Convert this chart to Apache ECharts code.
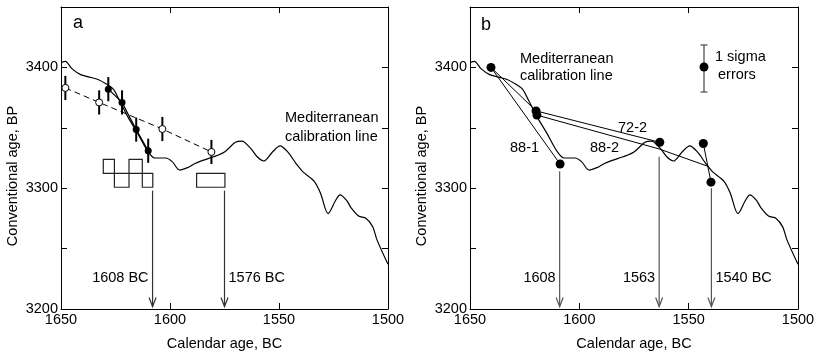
<!DOCTYPE html>
<html>
<head>
<meta charset="UTF-8">
<title>Calibration panels</title>
<script src="https://cdn.jsdelivr.net/npm/echarts@6/dist/echarts.min.js"></script>
<style>
  html, body { margin: 0; padding: 0; background: #fff; }
  #chart { width: 816px; height: 355px; }
</style>
</head>
<body>
<div id="chart"></div>
<script>
// Mediterranean calibration curve (year BC, conventional age BP)
var calYears = [1650, 1648, 1645, 1641, 1637, 1633, 1629, 1626, 1623, 1619, 1615, 1610, 1607, 1604, 1602, 1599, 1595.5, 1592, 1588.5, 1585, 1580, 1575, 1570, 1567, 1563, 1560, 1557, 1553, 1549.5, 1546, 1542, 1539, 1534, 1531, 1527.5, 1524, 1522, 1519, 1517, 1513.5, 1510, 1507, 1505, 1500];
var calAges  = [3404, 3405, 3399, 3394, 3392, 3390, 3386, 3382, 3372, 3358, 3346, 3330, 3325, 3325, 3325, 3322, 3315, 3317, 3320.5, 3323, 3326, 3330, 3338, 3339, 3333, 3326, 3322.5, 3330, 3335, 3330, 3320, 3313.5, 3306, 3296, 3279, 3290, 3294.5, 3290, 3284, 3277, 3275, 3268, 3257, 3237];

// panel a: open points (dashed) and filled points (solid), 1 sigma
var openYears = [1648, 1632.5, 1603.5, 1581];
var openAges  = [3383, 3371, 3349, 3330];
var fillYears = [1628.3, 1622, 1615.5, 1610];
var fillAges  = [3382, 3371, 3348.5, 3331];
var sigmaA = 10;

// panel a: calibrated ranges as boxes [from, to, low, high]
var boxFrom = [1630.6, 1618.8, 1625.5, 1612.7, 1587.8];
var boxTo   = [1625.5, 1612.7, 1618.8, 1607.9, 1574.8];
var boxLow  = [3312.3, 3312.3, 3300.8, 3300.8, 3300.8];
var boxHigh = [3323.8, 3323.8, 3312.3, 3312.3, 3312.3];

// arrows
var arrowYearsA = [1608, 1575];
var arrowTopA   = [3298, 3298];
var arrowTextA  = ['1608 BC', '1576 BC'];
var arrowSideA  = ['left', 'right'];
var arrowYearsB = [1609, 1563.5, 1539.6];
var arrowTopB   = [3314, 3326, 3300];
var arrowTextB  = ['1608', '1563', '1540 BC'];
var arrowSideB  = ['left', 'left', 'right'];
var arrowBottom = 3202;
var arrowTextAge = 3226;

// panel b: dated samples
var ptYears = [1640.4, 1619.8, 1619.4, 1608.8, 1563.2, 1543.3, 1539.8];
var ptAges  = [3400, 3364, 3360.5, 3320, 3338, 3337, 3305];
// wiggle-match sequences
var seq881Years = [1640.4, 1608.8];
var seq881Ages  = [3400, 3320];
var seq882Years = [1640.4, 1619.8, 1563.2];
var seq882Ages  = [3400, 3364, 3338];
var seq722Years = [1619.4, 1563.5, 1541];
var seq722Ages  = [3360.5, 3332.5, 3318];
var seqEndYears = [1543.3, 1539.8];
var seqEndAges  = [3337, 3305];

var yLabelVals = [3200, 3300, 3400];
var FONT = "'Liberation Sans', Arial, sans-serif";

function pairs(xs, ys) {
  return xs.map(function (x, i) { return [x, ys[i]]; });
}

function xAx(grid, pos, main) {
  return {
    type: 'value', gridIndex: grid, position: pos,
    min: 1500, max: 1650, interval: 50, inverse: true,
    axisLine: { show: true, onZero: false, lineStyle: { color: '#000', width: 1 } },
    axisTick: { show: true, inside: true, length: 6, lineStyle: { color: '#000' } },
    axisLabel: { show: main, color: '#000', fontSize: 14.5, fontFamily: FONT, margin: 3,
                 showMinLabel: true, showMaxLabel: true,
                 formatter: function (v) { return String(v); } },
    splitLine: { show: false },
    name: main ? 'Calendar age, BC' : '',
    nameLocation: 'middle', nameGap: 27,
    nameTextStyle: { color: '#000', fontSize: 14.5, fontFamily: FONT }
  };
}

function yAx(grid, pos, main) {
  return {
    type: 'value', gridIndex: grid, position: pos,
    min: 3200, max: 3450, interval: 50,
    axisLine: { show: true, onZero: false, lineStyle: { color: '#000', width: 1 } },
    axisTick: { show: true, inside: true, length: 6, lineStyle: { color: '#000' } },
    axisLabel: {
      show: main, color: '#000', fontSize: 14.5, fontFamily: FONT, margin: 3,
      formatter: function (v) { return yLabelVals.indexOf(v) >= 0 ? String(v) : ''; }
    },
    splitLine: { show: false }
  };
}

function errorBar(params, api) {
  var s = api.value(2);
  var p1 = api.coord([api.value(0), api.value(1) + s]);
  var p2 = api.coord([api.value(0), api.value(1) - s]);
  return { type: 'line', shape: { x1: p1[0], y1: p1[1], x2: p2[0], y2: p2[1] },
           style: { stroke: '#000', lineWidth: 2 } };
}

function boxItem(params, api) {
  var a = api.coord([api.value(0), api.value(3)]);
  var b = api.coord([api.value(1), api.value(2)]);
  var x = Math.min(a[0], b[0]), y = Math.min(a[1], b[1]);
  return { type: 'rect',
           shape: { x: x, y: y, width: Math.abs(b[0] - a[0]), height: Math.abs(b[1] - a[1]) },
           style: { stroke: '#222', lineWidth: 1.2, fill: null } };
}

function makeArrow(texts, sides, color) {
  return function (params, api) {
    var top = api.coord([api.value(0), api.value(1)]);
    var bot = api.coord([api.value(0), api.value(2)]);
    var lab = api.coord([api.value(0), arrowTextAge]);
    var i = params.dataIndex;
    var left = sides[i] === 'left';
    return { type: 'group', children: [
      { type: 'line', shape: { x1: top[0], y1: top[1], x2: bot[0], y2: bot[1] },
        style: { stroke: color, lineWidth: 1.2 } },
      { type: 'polyline',
        shape: { points: [[bot[0] - 3.5, bot[1] - 9], [bot[0], bot[1]], [bot[0] + 3.5, bot[1] - 9]] },
        style: { stroke: color, lineWidth: 1.2, fill: null } },
      { type: 'text', x: lab[0] + (left ? -4 : 4), y: lab[1],
        style: { text: texts[i], fill: '#000', font: '14.5px ' + FONT,
                 align: left ? 'right' : 'left', verticalAlign: 'middle' } }
    ] };
  };
}

function txt(x, y, s, size, align) {
  return { type: 'text', x: x, y: y,
           style: { text: s, fill: '#000', font: (size || 14.5) + 'px ' + FONT,
                    align: align || 'left', verticalAlign: 'middle' } };
}

var chart = echarts.init(document.getElementById('chart'), null, { renderer: 'canvas' });

var thin = { color: '#000', width: 1 };

chart.setOption({
  animation: false,
  backgroundColor: '#fff',
  grid: [
    { left: 61, top: 7, width: 327, height: 302, containLabel: false, outerBoundsMode: 'none' },
    { left: 470, top: 7, width: 328, height: 302, containLabel: false, outerBoundsMode: 'none' }
  ],
  xAxis: [xAx(0, 'bottom', true), xAx(0, 'top', false), xAx(1, 'bottom', true), xAx(1, 'top', false)],
  yAxis: [yAx(0, 'left', true), yAx(0, 'right', false), yAx(1, 'left', true), yAx(1, 'right', false)],
  graphic: [
    { type: 'text', x: 12.5, y: 176, rotation: Math.PI / 2,
      style: { text: 'Conventional age, BP', fill: '#000', font: '14.5px ' + FONT, align: 'center', verticalAlign: 'middle' } },
    { type: 'text', x: 422, y: 176, rotation: Math.PI / 2,
      style: { text: 'Conventional age, BP', fill: '#000', font: '14.5px ' + FONT, align: 'center', verticalAlign: 'middle' } },
    txt(73, 23.5, 'a', 18),
    txt(481, 25.5, 'b', 18),
    txt(285, 118, 'Mediterranean'),
    txt(285, 137, 'calibration line'),
    txt(520, 59, 'Mediterranean'),
    txt(520, 76, 'calibration line'),
    txt(715, 57, '1 sigma'),
    txt(718, 75, 'errors'),
    txt(510, 148, '88-1'),
    txt(590, 148, '88-2'),
    txt(618, 128, '72-2'),
    { type: 'group', children: [
      { type: 'line', shape: { x1: 704, y1: 45, x2: 704, y2: 92 }, style: { stroke: '#555', lineWidth: 1.3 } },
      { type: 'line', shape: { x1: 700.5, y1: 45, x2: 707.5, y2: 45 }, style: { stroke: '#555', lineWidth: 1.3 } },
      { type: 'line', shape: { x1: 700.5, y1: 92, x2: 707.5, y2: 92 }, style: { stroke: '#555', lineWidth: 1.3 } },
      { type: 'circle', shape: { cx: 704, cy: 67, r: 4.5 }, style: { fill: '#000' } }
    ] }
  ],
  series: [
    // ---- panel a
    { type: 'line', xAxisIndex: 0, yAxisIndex: 0, data: pairs(calYears, calAges),
      showSymbol: false, smooth: 0.3, lineStyle: { color: '#000', width: 1.2 }, z: 2 },
    { type: 'custom', xAxisIndex: 0, yAxisIndex: 0, renderItem: boxItem,
      data: boxFrom.map(function (v, i) { return [v, boxTo[i], boxLow[i], boxHigh[i]]; }), z: 2 },
    { type: 'line', xAxisIndex: 0, yAxisIndex: 0, data: pairs(openYears, openAges),
      showSymbol: false, lineStyle: { color: '#000', width: 1, type: [6, 4] }, z: 3 },
    { type: 'line', xAxisIndex: 0, yAxisIndex: 0, data: pairs(fillYears, fillAges),
      showSymbol: false, lineStyle: { color: '#000', width: 1.2 }, z: 3 },
    { type: 'custom', xAxisIndex: 0, yAxisIndex: 0, renderItem: errorBar,
      data: openYears.map(function (v, i) { return [v, openAges[i], sigmaA]; })
        .concat(fillYears.map(function (v, i) { return [v, fillAges[i], sigmaA]; })), z: 4 },
    { type: 'scatter', xAxisIndex: 0, yAxisIndex: 0, data: pairs(openYears, openAges),
      symbolSize: 7, itemStyle: { color: '#fff', borderColor: '#000', borderWidth: 1, opacity: 1 }, z: 5 },
    { type: 'scatter', xAxisIndex: 0, yAxisIndex: 0, data: pairs(fillYears, fillAges),
      symbolSize: 7, itemStyle: { color: '#000', opacity: 1 }, z: 5 },
    { type: 'custom', xAxisIndex: 0, yAxisIndex: 0,
      renderItem: makeArrow(arrowTextA, arrowSideA, '#333'),
      data: arrowYearsA.map(function (v, i) { return [v, arrowTopA[i], arrowBottom]; }), z: 3 },

    // ---- panel b
    { type: 'line', xAxisIndex: 2, yAxisIndex: 2, data: pairs(calYears, calAges),
      showSymbol: false, smooth: 0.3, lineStyle: { color: '#000', width: 1.2 }, z: 2 },
    { type: 'line', xAxisIndex: 2, yAxisIndex: 2, data: pairs(seq881Years, seq881Ages),
      showSymbol: false, lineStyle: thin, z: 3 },
    { type: 'line', xAxisIndex: 2, yAxisIndex: 2, data: pairs(seq882Years, seq882Ages),
      showSymbol: false, lineStyle: thin, z: 3 },
    { type: 'line', xAxisIndex: 2, yAxisIndex: 2, data: pairs(seq722Years, seq722Ages),
      showSymbol: false, lineStyle: thin, z: 3 },
    { type: 'line', xAxisIndex: 2, yAxisIndex: 2, data: pairs(seqEndYears, seqEndAges),
      showSymbol: false, lineStyle: thin, z: 3 },
    { type: 'scatter', xAxisIndex: 2, yAxisIndex: 2, data: pairs(ptYears, ptAges),
      symbolSize: 9, itemStyle: { color: '#000', opacity: 1 }, z: 5 },
    { type: 'custom', xAxisIndex: 2, yAxisIndex: 2,
      renderItem: makeArrow(arrowTextB, arrowSideB, '#555'),
      data: arrowYearsB.map(function (v, i) { return [v, arrowTopB[i], arrowBottom]; }), z: 3 }
  ]
});
</script>
</body>
</html>
